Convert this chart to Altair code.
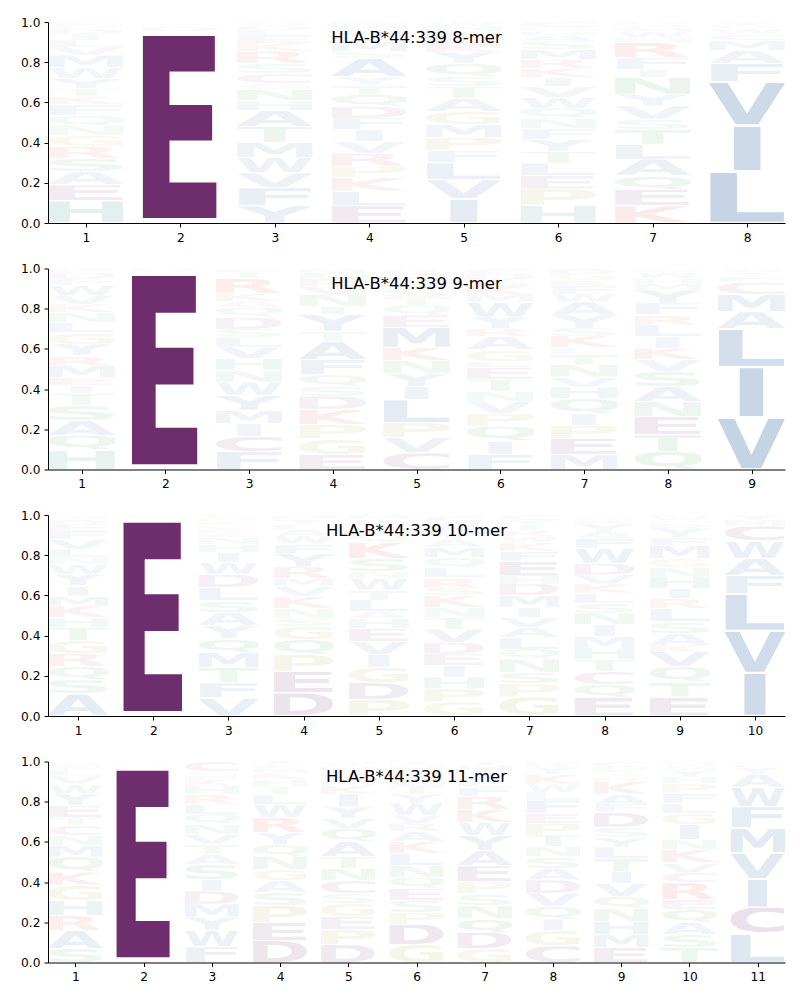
import base64
import altair as alt
import pandas as pd

PANEL_TITLES = ["HLA-B*44:339 8-mer", "HLA-B*44:339 9-mer",
                "HLA-B*44:339 10-mer", "HLA-B*44:339 11-mer"]

# letters per position, bottom -> top, and their heights (frequencies)
LETTERS_8 = ["HEASRGNQFKTYWMVLIDPC", "EDQKA", "YFVWMTAHNGCSRKELDQ",
             "ELKPRVIFDQTYASMGWNH", "IVLFPMGATSQYKENHW", "HPELTYFNQWVIKRMSADGC",
             "KEQALTSVYNIFRHWMGD", "LIVFAMCWQY"]
HEIGHTS_8 = [
    [.11, .08, .065, .065, .06, .055, .05, .05, .055, .04, .04, .05, .055, .06, .04, .035, .03, .025, .02, .015],
    [.955, .02, .01, .008, .007],
    [.085, .09, .075, .075, .075, .08, .08, .05, .055, .03, .05, .05, .06, .04, .035, .03, .02, .02],
    [.085, .075, .065, .058, .065, .058, .058, .058, .058, .058, .05, .04, .09, .035, .05, .03, .03, .02, .017],
    [.12, .095, .085, .06, .065, .065, .065, .065, .058, .05, .065, .058, .04, .035, .03, .025, .02],
    [.09, .08, .065, .063, .058, .058, .057, .05, .05, .055, .052, .045, .045, .045, .05, .04, .03, .02, .022, .025],
    [.085, .083, .07, .08, .075, .075, .05, .065, .058, .083, .04, .058, .075, .025, .03, .02, .018, .01],
    [.256, .228, .22, .09, .065, .05, .03, .025, .02, .016],
]

LETTERS_9 = ["HQASTIEMRYGLNKVWFDP", "ED", "FCIMYWNHVLSDQAKRTE", "EGPKDSQFATYINVRLM",
             "CVPLIYNKMEQTSAWFR", "FIQPVNTELGARYWMKSDC", "MEPIQHVNTLKSYAWFRGD",
             "QTENASVKILRFYMHWG", "VILAMCFYW"]
HEIGHTS_9 = [
    [.095, .075, .075, .075, .058, .04, .04, .058, .05, .058, .058, .05, .05, .04, .045, .05, .03, .03, .023],
    [.988, .012],
    [.09, .075, .065, .065, .075, .065, .058, .058, .058, .05, .04, .058, .05, .03, .04, .075, .03, .018],
    [.075, .08, .07, .075, .065, .05, .058, .075, .09, .05, .083, .04, .058, .04, .04, .03, .021],
    [.083, .075, .075, .115, .065, .065, .065, .065, .1, .06, .05, .04, .04, .03, .03, .022, .02],
    [.075, .065, .075, .065, .06, .05, .058, .06, .03, .058, .065, .04, .058, .075, .04, .04, .03, .03, .026],
    [.075, .08, .065, .058, .075, .058, .05, .06, .055, .03, .058, .04, .065, .065, .04, .04, .025, .035, .026],
    [.09, .083, .09, .075, .075, .075, .058, .058, .058, .058, .05, .058, .065, .03, .027, .03, .02],
    [.26, .25, .19, .085, .085, .06, .03, .02, .02],
]

LETTERS_10 = ["ASQRGTHKMIYWNLVFEDPC", "ED", "VFTMQYASLDWIHNERGKPC", "DEPQGSNKVMRYFWALTH",
              "PDGIVEHALTWNSKQCYFM", "GPHIEDVTNKSRLQMAYFWC", "GPSNQLAVIMDHEFKWRTYC",
              "EQCTHMINSLKVDWFAYRGP", "ETQVKASLRIHNGMFYDPWC", "IVLFAWCMY"]
HEIGHTS_10 = [
    [.11, .07, .065, .065, .065, .065, .05, .058, .05, .05, .058, .05, .035, .04, .05, .04, .03, .024, .015, .01],
    [.988, .012],
    [.09, .075, .075, .075, .07, .065, .065, .058, .065, .065, .058, .05, .04, .035, .02, .02, .02, .02, .02, .012],
    [.115, .108, .083, .075, .065, .04, .05, .058, .05, .04, .058, .065, .05, .04, .03, .025, .028, .02],
    [.083, .083, .075, .065, .065, .065, .05, .033, .058, .05, .058, .033, .065, .08, .04, .03, .025, .02, .022],
    [.07, .065, .058, .058, .058, .058, .065, .058, .05, .058, .04, .05, .05, .05, .05, .042, .035, .03, .025, .03],
    [.095, .065, .058, .065, .05, .058, .05, .05, .05, .058, .058, .04, .075, .05, .04, .03, .03, .03, .023, .025],
    [.092, .065, .065, .058, .058, .058, .058, .058, .05, .05, .045, .045, .058, .075, .05, .03, .04, .02, .015, .01],
    [.095, .075, .075, .075, .033, .058, .058, .065, .05, .05, .058, .045, .045, .065, .04, .048, .02, .02, .015, .01],
    [.215, .21, .185, .09, .085, .085, .075, .03, .025],
]

LETTERS_11 = ["SARHGKQMNCTEYWVLFDI", "EDQ", "FWYMDISATVNQLRHKEGPC", "DEPSAGNQYRWLTHKMFI",
              "DPEGSCNTAQVYIKMLFHRW", "GDPSEQNLKARVWYTCMFHI", "GDQNSPEAYWKRFLTVHMI",
              "CGIQVDASNTPEFLWKYRM", "EMHNQVITLYSDFAKRGWPC", "TSAQERCVKNIGLFPHYMWD",
              "LCIVMFWAYKQ"]
HEIGHTS_11 = [
    [.07, .09, .075, .075, .075, .065, .075, .058, .05, .05, .04, .058, .058, .05, .04, .03, .02, .015, .006],
    [.98, .01, .01],
    [.078, .083, .065, .065, .065, .058, .075, .05, .05, .05, .05, .05, .05, .05, .04, .03, .02, .013, .008, .05],
    [.11, .09, .083, .065, .058, .058, .065, .058, .058, .075, .065, .05, .04, .035, .03, .025, .02, .015],
    [.09, .075, .065, .065, .05, .065, .058, .058, .075, .065, .05, .058, .065, .04, .03, .03, .02, .015, .01, .016],
    [.09, .1, .06, .06, .058, .055, .06, .06, .06, .05, .04, .04, .06, .045, .04, .035, .03, .025, .015, .017],
    [.07, .08, .07, .065, .058, .058, .08, .075, .075, .065, .065, .065, .045, .03, .025, .02, .01, .025, .019],
    [.083, .075, .058, .065, .065, .065, .058, .058, .05, .058, .058, .05, .065, .04, .04, .05, .03, .02, .012],
    [.075, .065, .065, .065, .058, .065, .058, .065, .058, .05, .05, .075, .04, .05, .06, .02, .015, .01, .03, .026],
    [.075, .065, .058, .065, .05, .083, .05, .05, .065, .05, .075, .058, .05, .05, .05, .03, .03, .02, .015, .011],
    [.145, .13, .14, .13, .125, .105, .095, .065, .035, .015, .015],
]

PANELS = [(PANEL_TITLES[0], LETTERS_8, HEIGHTS_8), (PANEL_TITLES[1], LETTERS_9, HEIGHTS_9),
          (PANEL_TITLES[2], LETTERS_10, HEIGHTS_10), (PANEL_TITLES[3], LETTERS_11, HEIGHTS_11)]

COLOR_GROUPS = {"AVLIMFWY": "#3165a1", "DEC": "#6e2d6c", "KR": "#d0302b",
                "H": "#1b7f78", "STNQ": "#2e9a3e", "GP": "#a09a28"}

# approximate ink extent of DejaVu Sans Bold capitals (units of 1/1000 em)
GLYPH_X = {"A": (8, 766), "C": (50, 680), "D": (90, 785), "E": (90, 622), "F": (90, 600),
           "G": (50, 760), "H": (90, 747), "I": (90, 282), "K": (90, 785), "L": (90, 612),
           "M": (90, 905), "N": (90, 747), "P": (90, 690), "Q": (50, 780), "R": (90, 775),
           "S": (60, 660), "T": (10, 672), "V": (8, 766), "W": (20, 1083), "Y": (0, 724)}
ROUND = "CGOQS"

W, H = 737, 201


def glyph_url(letter):
    color = next(c for g, c in COLOR_GROUPS.items() if letter in g)
    x0, x1 = GLYPH_X[letter]
    top, bottom = (-743, 14) if letter in ROUND else (-729, 0)
    if letter == "Q":
        bottom = 160
    svg = (f'<svg xmlns="http://www.w3.org/2000/svg" viewBox="{x0} {top} {x1 - x0} {bottom - top}" '
           f'preserveAspectRatio="none"><text x="0" y="0" font-family="DejaVu Sans" '
           f'font-weight="bold" font-size="1000" fill="{color}">{letter}</text></svg>')
    return "data:image/svg+xml;base64," + base64.b64encode(svg.encode()).decode()


E_INK = GLYPH_X["E"][1] - GLYPH_X["E"][0]
glyphs = pd.DataFrame({
    "letter": list(GLYPH_X),
    "url": [glyph_url(l) for l in GLYPH_X],
    # glyphs are never stretched wider than "E" is
    "wfrac": [min(1.0, (b - a) / E_INK) for a, b in GLYPH_X.values()],
})


def logo_panel(title, letters, heights):
    n = len(letters)
    rows = []
    for pos, (seq, hs) in enumerate(zip(letters, heights), start=1):
        for k, (aa, h) in enumerate(zip(seq, hs)):
            rows.append({"pos": pos, "rank": k, "letter": aa, "p": h})
    df = pd.DataFrame(rows)
    base = (
        alt.Chart(df)
        .transform_lookup(lookup="letter", from_=alt.LookupData(glyphs, "letter", ["url", "wfrac"]))
        .transform_joinaggregate(total="sum(p)", groupby=["pos"])
        .transform_calculate(pn="datum.p / datum.total")
        .transform_window(cum="sum(pn)", sort=[alt.SortField("rank")], groupby=["pos"], frame=[None, 0])
        .transform_calculate(
            y_lo="datum.cum - 0.975 * datum.pn",
            y_hi="datum.cum - 0.025 * datum.pn",
            x_lo="datum.pos - 0.4 * datum.wfrac",
            x_hi="datum.pos + 0.4 * datum.wfrac",
            alpha="min(1, 1.05 * datum.pn)",
        )
    )
    marks = base.mark_image(aspect=False).encode(
        x=alt.X("x_lo:Q", scale=alt.Scale(domain=[0.6, n + 0.4], nice=False, zero=False),
                axis=alt.Axis(values=list(range(1, n + 1)), format="d", title=None, labelFlush=False)),
        x2="x_hi:Q",
        y=alt.Y("y_lo:Q", scale=alt.Scale(domain=[0, 1], nice=False),
                axis=alt.Axis(values=[0, 0.2, 0.4, 0.6, 0.8, 1.0], format=".1f", title=None,
                              minExtent=35, maxExtent=35)),
        y2="y_hi:Q",
        url="url:N",
        opacity=alt.Opacity("alpha:Q", scale=None, legend=None),
    )
    label = alt.Chart(pd.DataFrame({"label": [title]})).mark_text(
        font="DejaVu Sans", fontSize=16.5, color="black", align="center", baseline="alphabetic"
    ).encode(text="label:N", x=alt.value(W / 2), y=alt.value(20.7))
    return alt.layer(marks, label).properties(width=W, height=H)


chart = (
    alt.vconcat(*[logo_panel(*p) for p in PANELS], spacing=18.5)
    .configure_view(stroke=None)
    .configure_axis(grid=False, domainColor="black", tickColor="black", labelColor="black",
                    labelFont="DejaVu Sans", labelFontSize=12.2, tickSize=4, labelPadding=4,
                    domainWidth=1, tickWidth=1)
    .properties(padding={"left": 5, "right": 5, "top": 8, "bottom": 5}, background="white")
)

chart.save("out.html", embed_options={"renderer": "svg", "actions": False})
